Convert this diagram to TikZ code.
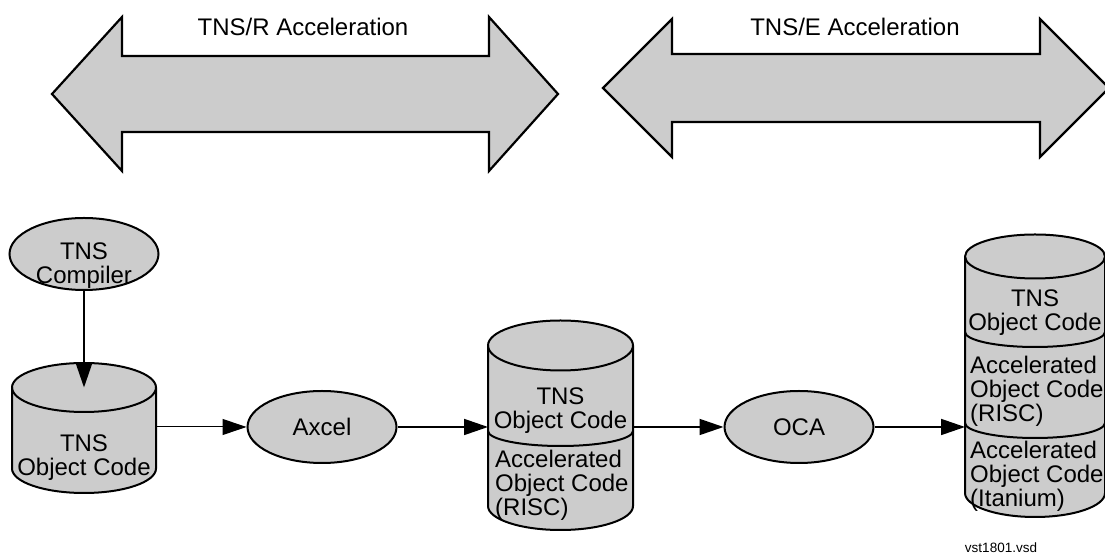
\documentclass[tikz,border=0pt]{standalone}
\usepackage{fontspec}
\setmainfont{Liberation Sans}
\usetikzlibrary{arrows.meta, shapes.geometric}
\definecolor{vlakgrijs}{HTML}{CCCCCC}
\newcommand\tekstfont{\fontsize{24}{24}\selectfont}
\tikzset{
  % Grijs vlak met zwarte rand
  vlak/.style={fill=vlakgrijs, draw=black, line width=2pt},
  rand/.style={draw=black, line width=2pt},
  % De grote pijlen bovenaan
  grotepijl/.style={vlak, line width=2.2pt, line join=miter},
  % Ovalen voor de stappen
  proces/.style={vlak, ellipse, minimum width=149pt, minimum height=72pt,
    inner sep=0pt, font=\tekstfont},
  % Tekst in de trommels (anker = basislijn van de laatste regel)
  tekst/.style={font=\tekstfont, align=center, inner sep=0pt, anchor=base},
  tekstlinks/.style={font=\tekstfont, align=left, inner sep=0pt, anchor=base west},
  kop/.style={font=\tekstfont, inner sep=0pt, anchor=base},
  % Verbindingen
  pijl/.style={line width=1.8pt, -{Triangle[length=24pt, width=16pt]}},
  dunnepijl/.style={pijl, line width=1pt}
}

\begin{document}
\begin{tikzpicture}[x=1pt, y=1pt]
  \useasboundingbox (0,0) rectangle (1105,556);

  % --- Grote pijlen ---
  \draw[grotepijl] (52,462) -- (122,539) -- (122,500) -- (489,500) -- (489,539)
    -- (558,462) -- (489,385) -- (489,424) -- (122,424) -- (122,385) -- cycle;
  \node[kop] (tnsr) at (303,520) {TNS/R Acceleration};

  \draw[grotepijl] (603,468) -- (672,537) -- (672,502) -- (1040,502) -- (1040,537)
    -- (1109,468) -- (1040,399) -- (1040,434) -- (672,434) -- (672,399) -- cycle;
  \node[kop] (tnse) at (855,520) {TNS/E Acceleration};

  % --- Trommel 1: TNS object code ---
  \filldraw[vlak] (12,168.5) -- (12,87.5)
    arc[start angle=180, end angle=360, x radius=72pt, y radius=24.5pt]
    -- (156,168.5)
    arc[start angle=0, end angle=180, x radius=72pt, y radius=24.5pt] -- cycle;
  \draw[rand] (12,168.5) arc[start angle=180, end angle=360, x radius=72pt, y radius=24.5pt];
  \coordinate (obj1-top) at (84,168.5);
  \coordinate (obj1-w) at (12,129);
  \coordinate (obj1-o) at (156,129);
  \node[tekst] (obj1-tekst) at (84,80) {TNS\\Object Code};

  % --- Trommel 2: TNS + RISC ---
  \filldraw[vlak] (488,210.5) -- (488,50)
    arc[start angle=180, end angle=360, x radius=72.5pt, y radius=24pt]
    -- (633,210.5)
    arc[start angle=0, end angle=180, x radius=72.5pt, y radius=25pt] -- cycle;
  \draw[rand] (488,210.5) arc[start angle=180, end angle=360, x radius=72.5pt, y radius=25pt];
  \draw[rand] (488,125) arc[start angle=180, end angle=360, x radius=72.5pt, y radius=15pt];
  \coordinate (obj2-w) at (488,129);
  \coordinate (obj2-o) at (633,129);
  \node[tekst] (obj2-tns) at (560.5,127) {TNS\\Object Code};
  \node[tekstlinks] (obj2-risc) at (495,40) {Accelerated\\Object Code\\(RISC)};

  % --- Trommel 3: TNS + RISC + Itanium ---
  \filldraw[vlak] (965,299.5) -- (965,63)
    arc[start angle=180, end angle=360, x radius=70pt, y radius=24pt]
    -- (1105,299.5)
    arc[start angle=0, end angle=180, x radius=70pt, y radius=22pt] -- cycle;
  \draw[rand] (965,299.5) arc[start angle=180, end angle=360, x radius=70pt, y radius=22pt];
  \draw[rand] (965,224) arc[start angle=180, end angle=360, x radius=70pt, y radius=15pt];
  \draw[rand] (965,133) arc[start angle=180, end angle=360, x radius=70pt, y radius=15pt];
  \coordinate (obj3-w) at (965,129);
  \node[tekst] (obj3-tns) at (1035,225) {TNS\\Object Code};
  \node[tekstlinks] (obj3-risc) at (970,134) {Accelerated\\Object Code\\(RISC)};
  \node[tekstlinks] (obj3-itanium) at (970,49) {Accelerated\\Object Code\\(Itanium)};

  % --- Stappen ---
  \node[proces] (comp) at (84,302) {};
  \node[proces] (axcel) at (322,129) {Axcel};
  \node[proces] (oca) at (799,129) {OCA};

  % --- Verbindingen ---
  \draw[pijl] (comp) -- (obj1-top);
  \node[tekst] (comp-tekst) at (84,272) {TNS\\Compiler};
  \draw[dunnepijl] (obj1-o) -- (axcel);
  \draw[pijl] (axcel) -- (obj2-w);
  \draw[pijl] (obj2-o) -- (oca);
  \draw[pijl] (oca) -- (obj3-w);

  \node[font=\fontsize{13.5}{16}\selectfont, inner sep=0pt, anchor=base] (bestand)
    at (1001,3) {vst1801.vsd};
\end{tikzpicture}
\end{document}
